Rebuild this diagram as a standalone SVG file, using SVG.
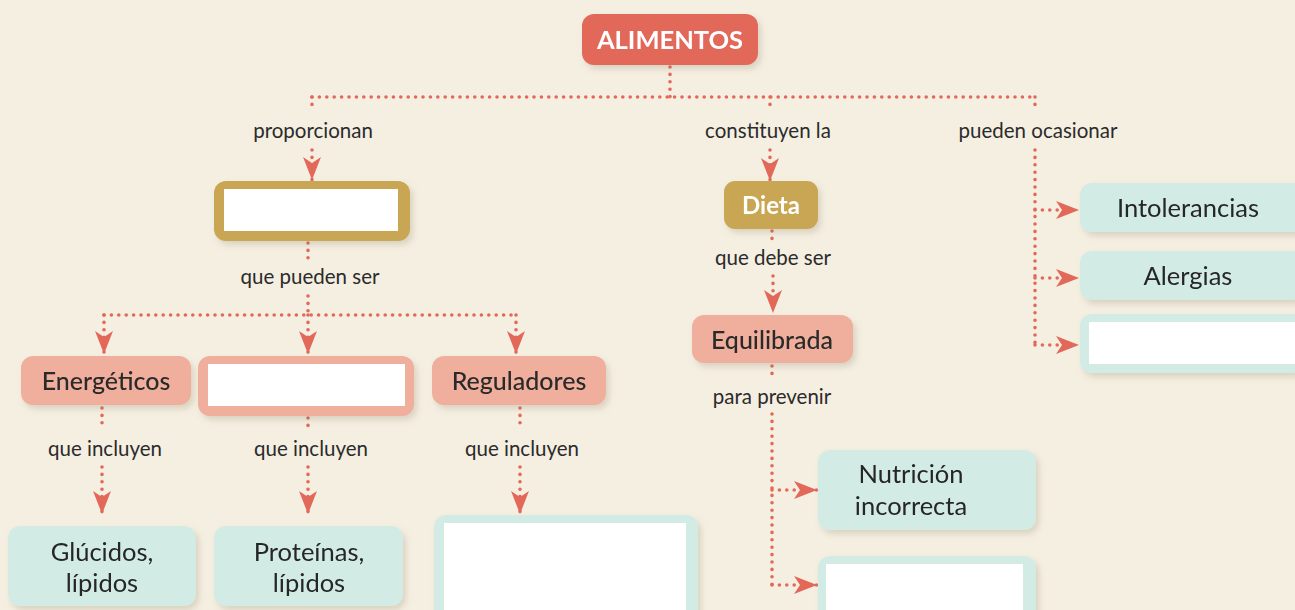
<svg xmlns="http://www.w3.org/2000/svg" width="1295" height="610" viewBox="0 0 1295 610">
<style>
.bg{fill:#f5efe2}
.red{fill:#e2695a}
.gold{fill:#c8a652}
.salmon{fill:#f0ae9c}
.teal{fill:#d3ebe5}
.white{fill:#ffffff}
.dot{fill:none;stroke:#e2695a;stroke-width:3.6;stroke-linecap:round;stroke-dasharray:0 7.4}
.lbl{font-family:Lato,"Liberation Sans",sans-serif;font-size:20.5px;font-weight:400;fill:#2b2b2b;text-anchor:middle}
.nt{font-family:Lato,"Liberation Sans",sans-serif;font-size:25.5px;font-weight:400;fill:#262626;text-anchor:middle}
.nb{font-family:Lato,"Liberation Sans",sans-serif;font-size:25px;font-weight:500;fill:#2a2a2a;text-anchor:middle}
.wb{font-family:Lato,"Liberation Sans",sans-serif;font-weight:700;fill:#ffffff;text-anchor:middle}
</style>
<defs>
<filter id="sh" x="-10%" y="-10%" width="125%" height="135%">
<feDropShadow dx="3" dy="4" stdDeviation="3" flood-color="#8a7a5a" flood-opacity="0.25"/>
</filter>
<marker id="ah" markerUnits="userSpaceOnUse" markerWidth="24" markerHeight="20" viewBox="0 0 24 20" refX="23" refY="10" orient="auto">
<path d="M0,1 L23,10 L0,19 L6,10 Z" fill="#e2695a"/>
</marker>
</defs>
<rect class="bg" x="0" y="0" width="1295" height="610"/>

<g id="connectors">
<path class="dot" d="M670,67 V97"/>
<path class="dot" d="M312,97 H1035"/>
<path class="dot" d="M312,97 V111"/>
<path class="dot" d="M312,150 V180" marker-end="url(#ah)"/>
<path class="dot" d="M770,97 V111"/>
<path class="dot" d="M770,150 V181" marker-end="url(#ah)"/>
<path class="dot" d="M1035,97 V111"/>
<path class="dot" d="M1035,150 V345"/>
<path class="dot" d="M1035,210 H1079" marker-end="url(#ah)"/>
<path class="dot" d="M1035,278 H1079" marker-end="url(#ah)"/>
<path class="dot" d="M1035,345 H1079" marker-end="url(#ah)"/>
<path class="dot" d="M308,243 V258"/>
<path class="dot" d="M308,296 V315"/>
<path class="dot" d="M104,315 H516"/>
<path class="dot" d="M104,315 V354" marker-end="url(#ah)"/>
<path class="dot" d="M308,315 V354" marker-end="url(#ah)"/>
<path class="dot" d="M516,315 V354" marker-end="url(#ah)"/>
<path class="dot" d="M102,408 V430"/>
<path class="dot" d="M102,467 V514" marker-end="url(#ah)"/>
<path class="dot" d="M308,418 V430"/>
<path class="dot" d="M308,467 V514" marker-end="url(#ah)"/>
<path class="dot" d="M520,408 V430"/>
<path class="dot" d="M520,467 V514" marker-end="url(#ah)"/>
<path class="dot" d="M772,231 V239"/>
<path class="dot" d="M773,276 V313" marker-end="url(#ah)"/>
<path class="dot" d="M772,366 V378"/>
<path class="dot" d="M772,414 V585"/>
<path class="dot" d="M772,490 H817" marker-end="url(#ah)"/>
<path class="dot" d="M772,585 H817" marker-end="url(#ah)"/>
</g>

<g id="labels">
<text class="lbl" x="313" y="138">proporcionan</text>
<text class="lbl" x="768" y="138">constituyen la</text>
<text class="lbl" x="1038" y="138">pueden ocasionar</text>
<text class="lbl" x="310" y="284">que pueden ser</text>
<text class="lbl" x="773" y="265">que debe ser</text>
<text class="lbl" x="772" y="404">para prevenir</text>
<text class="lbl" x="105" y="456">que incluyen</text>
<text class="lbl" x="311" y="456">que incluyen</text>
<text class="lbl" x="522" y="456">que incluyen</text>
</g>

<g id="alimentos" filter="url(#sh)">
<rect class="red" x="582" y="14" width="176" height="51" rx="12"/>
<text class="wb" x="670" y="49" font-size="25.5">ALIMENTOS</text>
</g>

<g id="nutrientes" filter="url(#sh)">
<rect class="gold" x="214" y="181" width="196" height="60" rx="12"/>
<rect class="white" x="224" y="189" width="174" height="42"/>
</g>

<g id="dieta" filter="url(#sh)">
<rect class="gold" x="724" y="181" width="94" height="48" rx="11"/>
<text class="wb" x="771" y="214" font-size="24">Dieta</text>
</g>

<g id="energeticos" filter="url(#sh)">
<rect class="salmon" x="21" y="356" width="170" height="49" rx="12"/>
<text class="nb" x="106" y="390">Energéticos</text>
</g>

<g id="blank2" filter="url(#sh)">
<rect class="salmon" x="198" y="356" width="216" height="60" rx="12"/>
<rect class="white" x="208" y="364" width="197" height="42"/>
</g>

<g id="reguladores" filter="url(#sh)">
<rect class="salmon" x="432" y="356" width="174" height="49" rx="12"/>
<text class="nb" x="519" y="390">Reguladores</text>
</g>

<g id="equilibrada" filter="url(#sh)">
<rect class="salmon" x="692" y="315" width="161" height="48" rx="12"/>
<text class="nb" x="772" y="349">Equilibrada</text>
</g>

<g id="intolerancias" filter="url(#sh)">
<rect class="teal" x="1080" y="183" width="225" height="49" rx="12"/>
<text class="nt" x="1188" y="217">Intolerancias</text>
</g>

<g id="alergias" filter="url(#sh)">
<rect class="teal" x="1080" y="251" width="225" height="49" rx="12"/>
<text class="nt" x="1188" y="285">Alergias</text>
</g>

<g id="blank3" filter="url(#sh)">
<rect class="teal" x="1080" y="314" width="225" height="59" rx="12"/>
<rect class="white" x="1089" y="322" width="206" height="42"/>
</g>

<g id="glucidos" filter="url(#sh)">
<rect class="teal" x="8" y="526" width="188" height="80" rx="12"/>
<text class="nt" x="102" y="561">Glúcidos,</text>
<text class="nt" x="102" y="592">lípidos</text>
</g>

<g id="proteinas" filter="url(#sh)">
<rect class="teal" x="214" y="526" width="189" height="80" rx="12"/>
<text class="nt" x="309" y="561">Proteínas,</text>
<text class="nt" x="309" y="592">lípidos</text>
</g>

<g id="blank4" filter="url(#sh)">
<rect class="teal" x="434" y="515" width="264" height="110" rx="12"/>
<rect class="white" x="444" y="523" width="242" height="87"/>
</g>

<g id="nutricion" filter="url(#sh)">
<rect class="teal" x="818" y="450" width="218" height="80" rx="12"/>
<text class="nt" x="911" y="483">Nutrición</text>
<text class="nt" x="911" y="515">incorrecta</text>
</g>

<g id="blank5" filter="url(#sh)">
<rect class="teal" x="818" y="556" width="218" height="70" rx="12"/>
<rect class="white" x="826" y="564" width="197" height="46"/>
</g>
</svg>
